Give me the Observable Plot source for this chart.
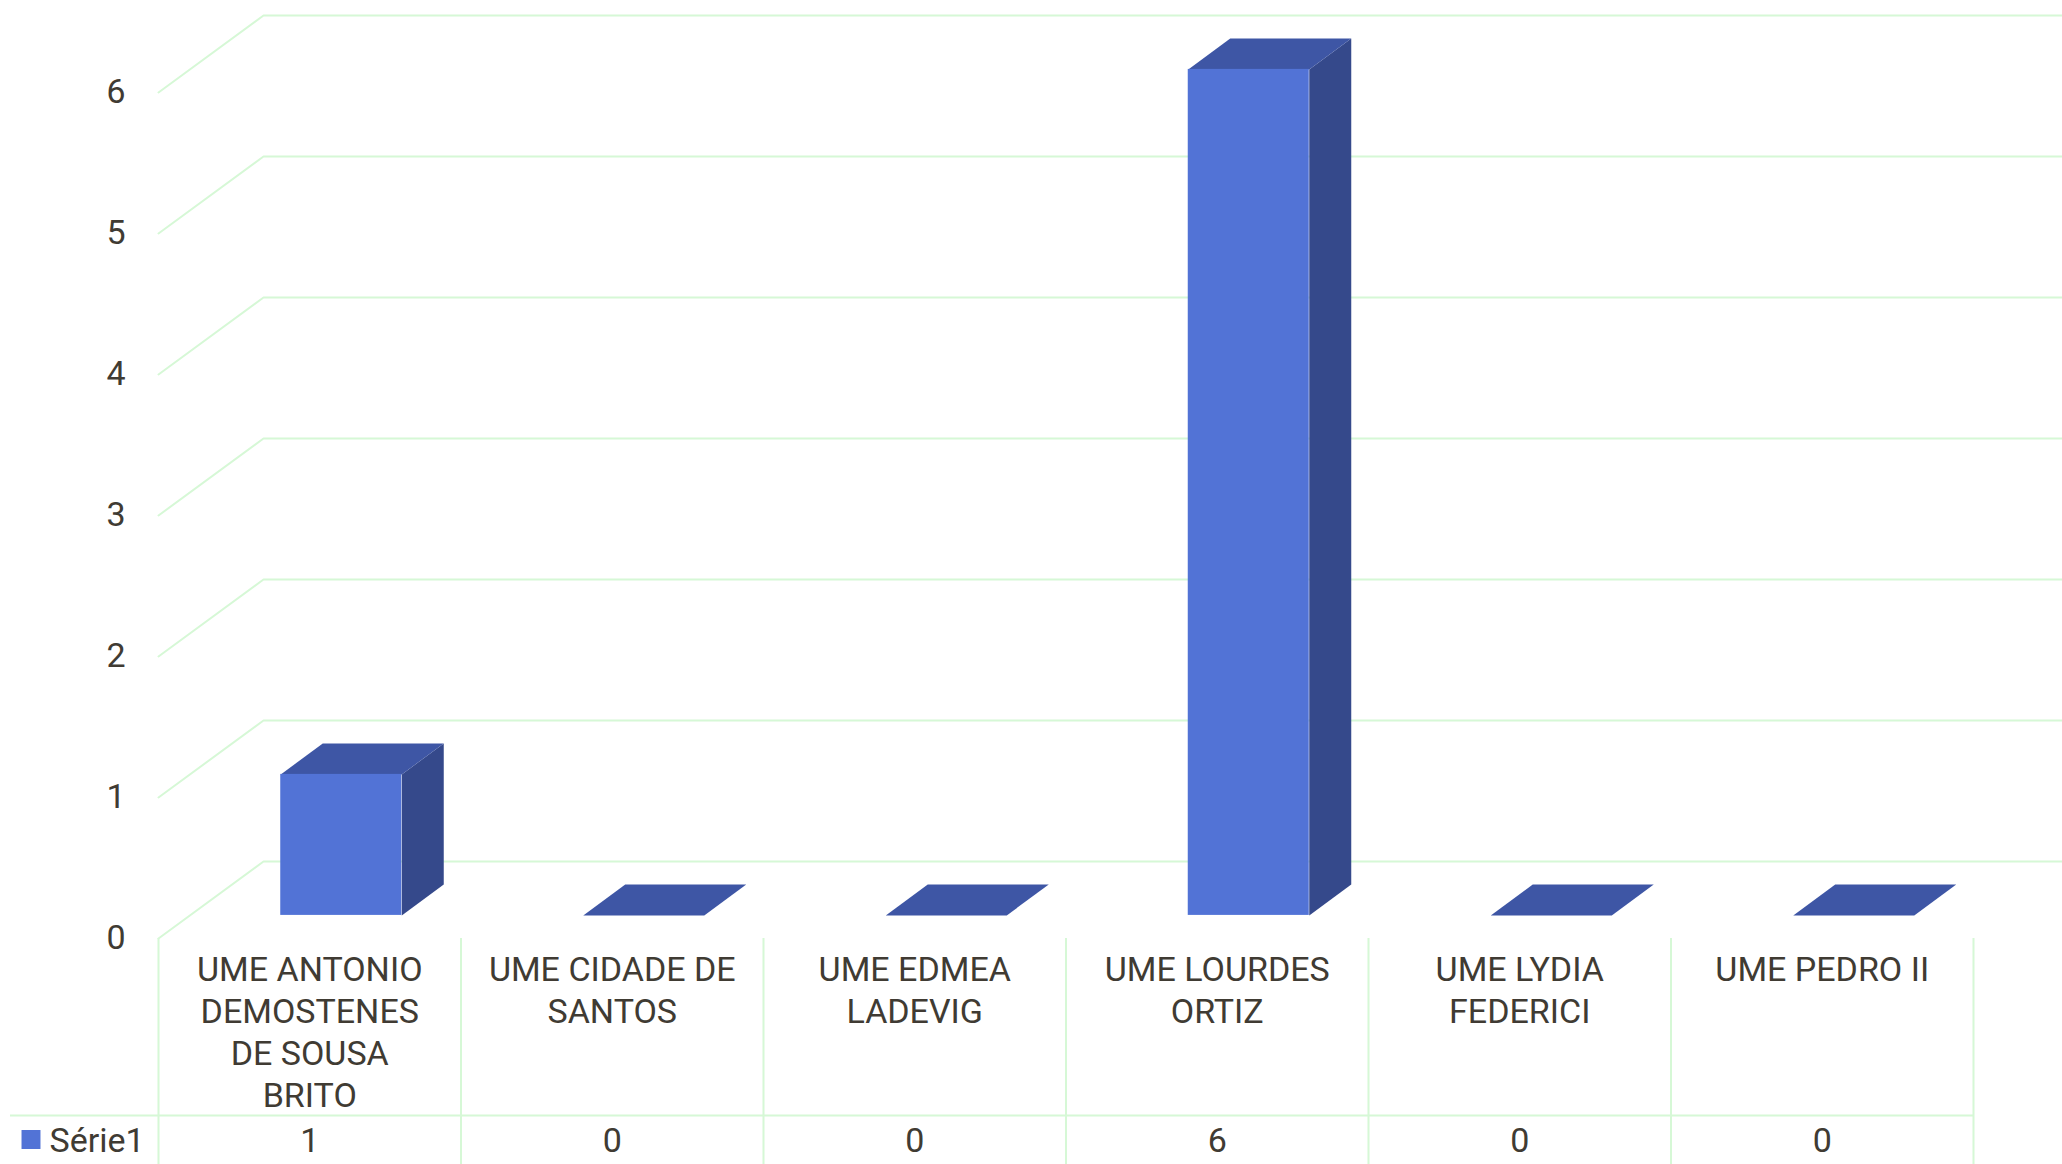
<!DOCTYPE html>
<html><head><meta charset="utf-8">
<script src="https://cdn.jsdelivr.net/npm/d3@7"></script>
<script src="https://cdn.jsdelivr.net/npm/@observablehq/plot@0.6"></script>
<style>
html,body{margin:0;padding:0;background:#fff;overflow:hidden}
#chart svg{display:block;overflow:hidden}
</style></head><body><div id="chart"></div>
<script>
// ---- data ----
const categories = [
  "UME ANTONIO DEMOSTENES DE SOUSA BRITO",
  "UME CIDADE DE SANTOS",
  "UME EDMEA LADEVIG",
  "UME LOURDES ORTIZ",
  "UME LYDIA FEDERICI",
  "UME PEDRO II"
];
const values = [1, 0, 0, 6, 0, 0];
const seriesName = "Série1";
const yTicks = [0, 1, 2, 3, 4, 5, 6];

// ---- style / layout ----
const W = 2062, H = 1164;
const colors = {front: "#5273d6", top: "#3e56a5", side: "#35498b", grid: "#d6f8d6", text: "#403b33"};
const font = "Roboto, 'Liberation Sans', sans-serif";
const fs = 34;
const mL = 158, mR = 89, mT = 92, mB = 226;
const n = categories.length;
const yMax = yTicks[yTicks.length - 1];
const pxX = (W - mL - mR) / n;
const pxY = (H - mT - mB) / yMax;
const DX = 105 / pxX, DY = 77 / pxY;   // depth of the 3D box, in data units
const f0 = 0.3, f1 = 0.7;              // bar depth (front/back fraction)
const b0 = 0.3, b1 = 0.7;              // bar width within a column

const project = (x, v, f) => ({x: x + f * DX, y: v + f * DY});
const bars = values.map((v, i) => ({i, v, cat: categories[i]}));
const tops = [], sides = [], grid = [];
bars.forEach(({i, v}) => {
  const xa = i + b0, xb = i + b1;
  [[xa, v, f0], [xb, v, f0], [xb, v, f1], [xa, v, f1]].forEach(p => tops.push({id: i, ...project(...p)}));
  if (v > 0) [[xb, 0, f0], [xb, v, f0], [xb, v, f1], [xb, 0, f1]].forEach(p => sides.push({id: i, ...project(...p)}));
});
yTicks.forEach(t => {
  [[0, t, 0], [0, t, 1], [n + 1, t, 1]].forEach(p => grid.push({id: t, ...project(...p)}));
});

const legendLeft = (10 - mL) / pxX;
const swatchX = (30.5 - mL) / pxX;
const legendTextX = (49 - mL) / pxX;

const chart = Plot.plot({
  width: W, height: H,
  marginLeft: mL, marginRight: mR, marginTop: mT, marginBottom: mB,
  x: {domain: [0, n], axis: null},
  y: {domain: [0, yMax]},
  style: {fontFamily: font, fontSize: fs + "px", color: colors.text, background: "#fff"},
  marks: [
    Plot.line(grid, {x: "x", y: "y", z: "id", stroke: colors.grid, strokeWidth: 2, curve: "linear"}),
    // data table lines
    Plot.ruleX(d3.range(n + 1), {x: d => d, y1: () => 0, y2: () => -2, stroke: colors.grid, strokeWidth: 2}),
    Plot.ruleY([0], {y: d => d, x1: () => legendLeft, x2: () => n, dy: 177, stroke: colors.grid, strokeWidth: 2}),
    // 3D bars
    Plot.line(sides, {x: "x", y: "y", z: "id", fill: colors.side, stroke: "none", curve: "linear-closed"}),
    Plot.line(tops, {x: "x", y: "y", z: "id", fill: colors.top, stroke: "none", curve: "linear-closed"}),
    Plot.rect(bars.filter(d => d.v > 0), {
      x1: d => d.i + b0 + f0 * DX, x2: d => d.i + b1 + f0 * DX,
      y1: () => f0 * DY, y2: d => d.v + f0 * DY, fill: colors.front
    }),
    // y axis
    Plot.axisY(yTicks, {tickSize: 0, tickPadding: 33, label: null, fontSize: fs, tickFormat: d => String(d)}),
    // category labels
    Plot.text(bars, {x: d => d.i + 0.5, y: () => 0, text: "cat", lineAnchor: "top", dy: 13,
      lineWidth: 8.25, lineHeight: 1.23, fontSize: fs, fill: colors.text}),
    // data table values
    Plot.text(bars, {x: d => d.i + 0.5, y: () => 0, text: d => String(d.v), dy: 203, fontSize: fs, fill: colors.text}),
    // legend key
    Plot.dot([seriesName], {x: () => swatchX, y: () => 0, dy: 201, symbol: "square", r: 10.7, fill: colors.front, stroke: "none"}),
    Plot.text([seriesName], {x: () => legendTextX, y: () => 0, dy: 203, text: d => d, textAnchor: "start", fontSize: fs, fill: colors.text})
  ]
});
document.getElementById("chart").appendChild(chart);
</script>
</body></html>
